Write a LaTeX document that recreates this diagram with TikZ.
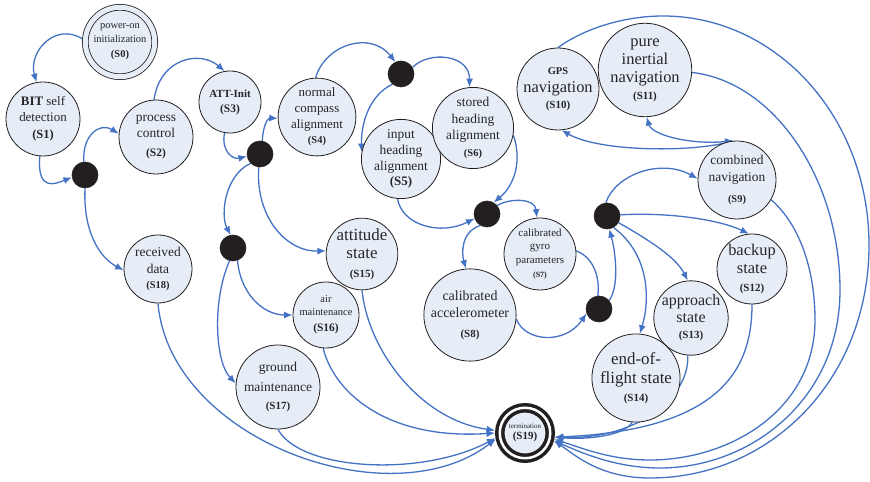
\documentclass[tikz,border=0pt]{standalone}
\usepackage{fontspec}
\setmainfont{Liberation Serif}
\usetikzlibrary{arrows.meta}
\definecolor{statefill}{RGB}{230,237,247}
\definecolor{edgeblue}{RGB}{68,114,196}
\definecolor{ink}{RGB}{35,31,32}
\definecolor{txt}{RGB}{38,38,38}
\newcommand\sz[2]{\fontsize{#1}{#2}\selectfont}
\pgfdeclarelayer{bg}
\pgfdeclarelayer{links}
\pgfsetlayers{bg,links,main}
\tikzset{
  st/.style={circle, draw=ink, line width=0.8bp, fill=statefill, inner sep=0pt,
    minimum size=#1 bp, align=center, text=txt},
  st0/.style={circle, draw=ink, line width=0.8bp, double=statefill, double distance=5bp,
    fill=statefill, minimum size=69.4bp, inner sep=0pt, outer sep=3.3bp, align=center, text=txt},
  fin/.style={circle, draw=ink, line width=3.5bp, double=white, double distance=2.5bp,
    fill=statefill, minimum size=50.5bp, inner sep=0pt, outer sep=4.75bp, align=center, text=txt},
  jn/.style={circle, fill=ink, draw=ink, line width=0.6bp, minimum size=26bp, inner sep=0pt},
  link/.style={draw=edgeblue, line width=1.3bp, -{Latex[length=8.5bp,width=7bp]}},
  link2/.style={draw=edgeblue, line width=1.3bp, {Latex[length=8.5bp,width=7bp]}-{Latex[length=8.5bp,width=7bp]}},
  plain/.style={draw=edgeblue, line width=1.3bp},
}
\begin{document}
\begin{tikzpicture}[x=1bp,y=-1bp]
\useasboundingbox (0,0) rectangle (870,482);
\begin{pgfonlayer}{bg}
  \fill[white] (0,0) rectangle (870,482);
\end{pgfonlayer}

% states
\node[st0, font=\sz{10.5}{14}] (S0) at (120,42) {power-on\\initialization\\[1pt]\textbf{(S0)}};
\node[st=74, font=\sz{13}{16}] (S1) at (43,119) {\textbf{BIT} self\\detection\\[1pt]\sz{12.5}{14}\textbf{(S1)}};
\node[st=74, font=\sz{13.5}{16}] (S2) at (156,137) {process\\control\\[3pt]\sz{11.5}{13}\textbf{(S2)}};
\node[st=62, font=\sz{11}{15}] (S3) at (230,102) {\textbf{ATT-Init}\\\sz{11.5}{13}\textbf{(S3)}};
\node[st=74, font=\sz{13}{16}] (S4) at (317,117) {normal\\compass\\alignment\\[-1pt]\sz{10.5}{12}\textbf{(S4)}};
\node[st=72, font=\sz{13.5}{16}] (S5) at (401,159) {input\\heading\\alignment\\[-1pt]\sz{13}{14}\textbf{(S5)}};
\node[st=74, font=\sz{13.5}{16.5}] (S6) at (473,128) {stored\\heading\\alignment\\[0pt]\sz{10.5}{12}\textbf{(S6)}};
\node[st=72, font=\sz{11}{14}] (S7) at (540,254) {calibrated\\gyro\\parameters\\\sz{8}{10}\textbf{(S7)}};
\node[st=88, font=\sz{14}{17}] (S8) at (470,315) {calibrated\\accelerometer\\[3pt]\sz{11}{13}\textbf{(S8)}};
\node[st=78, font=\sz{13.5}{17}] (S9) at (737,180) {combined\\navigation\\[4pt]\sz{10.5}{12}\textbf{(S9)}};
\node[st=82, font=\sz{16.5}{18}] (S10) at (558,89) {\sz{10.5}{12}\textbf{GPS}\\navigation\\[-2pt]\sz{11}{13}\textbf{(S10)}};
\node[st=80, font=\sz{16.5}{18}] (S11) at (645,70) {pure\\inertial\\navigation\\[-1pt]\sz{11}{13}\textbf{(S11)}};
\node[st=70, font=\sz{16.5}{18}] (S12) at (752,269) {backup\\state\\[0pt]\sz{11}{13}\textbf{(S12)}};
\node[st=72, font=\sz{16}{17}] (S13) at (691,318) {approach\\state\\[-1pt]\sz{11}{13}\textbf{(S13)}};
\node[st=80, font=\sz{17}{19}] (S14) at (636,378) {end-of-\\flight state\\[-1pt]\sz{11}{13}\textbf{(S14)}};
\node[st=70, font=\sz{17}{18}] (S15) at (362,254) {attitude\\state\\[1pt]\sz{11}{13}\textbf{(S15)}};
\node[st=66, font=\sz{10.5}{13}] (S16) at (326,315) {air\\maintenance\\[3pt]\sz{11.5}{13}\textbf{(S16)}};
\node[st=82, font=\sz{13.5}{20}] (S17) at (278,387) {ground\\maintenance\\[-2pt]\sz{11}{13}\textbf{(S17)}};
\node[st=68, font=\sz{13.5}{17}] (S18) at (158,269) {received\\data\\[-1pt]\sz{10.5}{12}\textbf{(S18)}};
\node[fin, font=\sz{7}{11}] (S19) at (525,433) {termination\\\sz{11}{13}\textbf{(S19)}};

% junction points
\node[jn] (J1) at (85,175) {};
\node[jn] (J2) at (260,154) {};
\node[jn] (J3) at (401,74) {};
\node[jn] (J4) at (487,214) {};
\node[jn] (J5) at (599,309) {};
\node[jn] (J6) at (607,216) {};
\node[jn] (J7) at (233,248) {};

\begin{pgfonlayer}{links}
% start-up chain
\draw[link] (S0.175) .. controls (55,22) and (28,52) .. (S1.100);
\draw[link] (S1.265) .. controls (37,192) and (55,184) .. (J1.190);
\draw[link] (J1.95) .. controls (82,135) and (100,122) .. (S2.175);
\draw[link] (J1.270) .. controls (83,232) and (100,258) .. (S18.182);
\draw[link] (S2.93) .. controls (160,58) and (200,50) .. (S3.100);
\draw[link] (S3.260) .. controls (221,150) and (232,160) .. (J2.190);
\draw[link] (J2.80) .. controls (263,125) and (268,118) .. (S4.182);
\draw[link] (J2.225) .. controls (225,175) and (220,215) .. (J7.100);
\draw[link] (J2.265) .. controls (255,215) and (285,252) .. (S15.175);
\draw[link] (J7.290) .. controls (240,292) and (262,315) .. (S16.180);
\draw[link] (J7.255) .. controls (212,300) and (215,362) .. (S17.175);
% alignment
\draw[link] (S4.92) .. controls (325,45) and (370,30) .. (J3.115);
\draw[link] (J3.230) .. controls (370,95) and (361,122) .. (S5.170);
\draw[link] (J3.30) .. controls (430,50) and (470,55) .. (S6.95);
\draw[link] (S6.350) .. controls (522,160) and (515,185) .. (J4.60);
\draw[link] (S5.265) .. controls (402,225) and (440,236) .. (J4.200);
% calibration
\draw[link] (J4.40) .. controls (510,198) and (535,198) .. (S7.95);
\draw[link] (J4.240) .. controls (460,232) and (462,255) .. (S8.95);
\draw[plain] (S7.5) .. controls (595,258) and (600,280) .. (J5.95);
\draw[link] (S8.355) .. controls (525,342) and (565,345) .. (J5.200);
\draw[link] (J5.40) .. controls (620,285) and (615,250) .. (J6.280);
% navigation modes
\draw[link] (J6.95) .. controls (615,175) and (660,158) .. (S9.178);
\draw[link] (J6.5) .. controls (670,212) and (720,220) .. (S12.95);
\draw[link] (J6.330) .. controls (640,235) and (675,255) .. (S13.95);
\draw[link] (J6.300) .. controls (650,255) and (650,300) .. (S14.85);
\draw[link2] (S10.275) .. controls (600,152) and (690,152) .. (S9.95);
\draw[link2] (S11.272) .. controls (652,135) and (690,145) .. (S9.95);
% termination, right side
\draw[link] (S10.90) .. controls (585,28) and (625,16) .. (663,16)
  .. controls (777,16) and (869,118) .. (869,245)
  .. controls (869,380) and (770,478) .. (650,478)
  .. controls (600,478) and (575,455) .. (S19.-15);
\draw[link] (S11.357) .. controls (775,82) and (840,180) .. (840,290)
  .. controls (840,400) and (750,468) .. (660,468)
  .. controls (615,468) and (580,452) .. (S19.-15);
\draw[link] (S9.330) .. controls (800,225) and (815,270) .. (815,320)
  .. controls (815,410) and (730,460) .. (650,460)
  .. controls (610,460) and (582,448) .. (S19.-12);
\draw[link] (S12.270) .. controls (752,370) and (720,430) .. (S19.-8);
\draw[link] (S13.265) .. controls (690,395) and (640,440) .. (S19.-8);
\draw[link] (S14.265) .. controls (625,435) and (590,440) .. (S19.-8);
% termination, left side
\draw[link] (S15.270) .. controls (368,350) and (420,420) .. (S19.175);
\draw[link] (S16.265) .. controls (335,395) and (390,440) .. (S19.180);
\draw[link] (S17.270) .. controls (300,470) and (420,478) .. (S19.190);
\draw[link] (S18.270) .. controls (170,440) and (390,520) .. (S19.192);
\end{pgfonlayer}
\end{tikzpicture}
\end{document}
